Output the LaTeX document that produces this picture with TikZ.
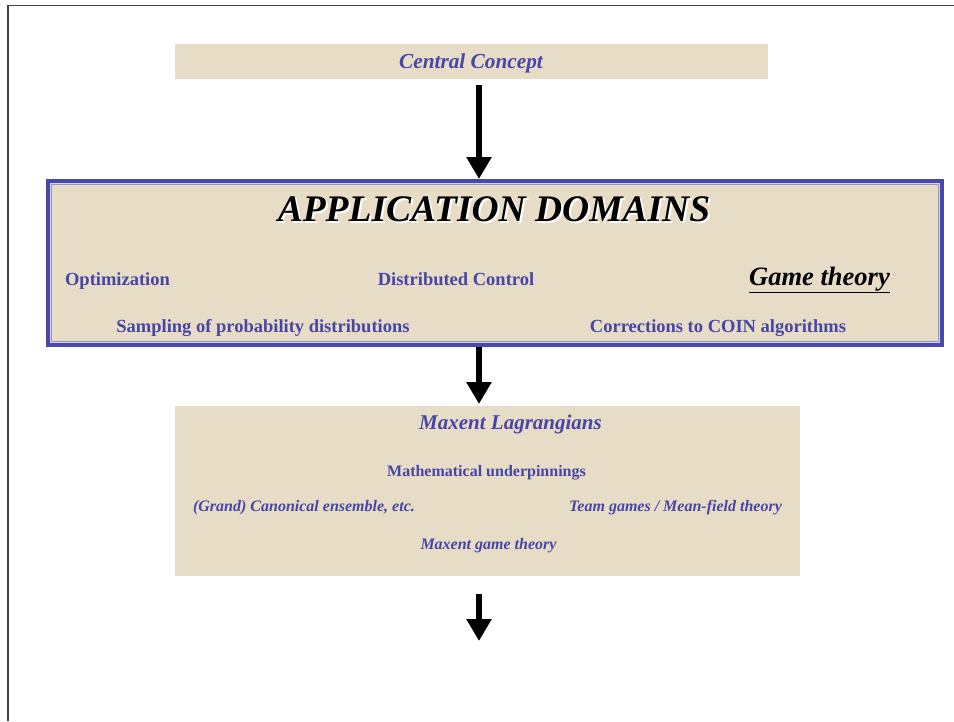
\documentclass[tikz,border=0pt]{standalone}
\usepackage{fontspec}
\setmainfont{Liberation Serif}
\usetikzlibrary{arrows.meta}
\definecolor{paneltan}{RGB}{231,220,197}
\definecolor{txtblue}{RGB}{70,70,168}
\definecolor{frameblue}{RGB}{72,72,174}
\definecolor{framelight}{RGB}{214,212,234}
\definecolor{framegrey}{RGB}{150,150,195}
\newcommand{\shadowtext}[1]{\makebox[0pt][l]{\kern2pt\raisebox{-2pt}{\color{white}#1}}#1}
\begin{document}
\begin{tikzpicture}[x=1pt,y=-1pt,
  panel/.style={fill=paneltan,draw=none,inner sep=0,outer sep=0,anchor=north west},
  lbl/.style={anchor=base,inner sep=0,text=txtblue,font=\bfseries\fontsize{18.5}{20}\selectfont},
  sublbl/.style={anchor=base,inner sep=0,text=txtblue,font=\bfseries\fontsize{16}{18}\selectfont},
  subit/.style={anchor=base,inner sep=0,text=txtblue,font=\bfseries\itshape\fontsize{16}{18}\selectfont},
  bigarrow/.style={line width=6pt,-{Triangle[width=24pt,length=22pt]}}]
\useasboundingbox (0,0) rectangle (954,721);
% slide frame
\draw[line width=1.5pt,black!75] (8,721) -- (8,5.5) -- (954,5.5);
% Central concept box
\node[panel,minimum width=593pt,minimum height=35pt] (cc) at (175,44) {};
\node[anchor=base,inner sep=0,text=txtblue,font=\bfseries\itshape\fontsize{21.3}{24}\selectfont] (cct) at (471,68) {Central Concept};
% Application domains box
\node[panel,minimum width=898pt,minimum height=168pt] (app) at (46,179) {};
\draw[frameblue,line width=4pt] (48,181) rectangle (942,345);
\draw[framelight,line width=1pt] (50.5,183.5) rectangle (939.5,342.5);
\draw[framegrey,line width=1pt] (51.5,184.5) rectangle (938.5,341.5);
\node[anchor=base,inner sep=0,text=black,font=\bfseries\itshape\fontsize{37.5}{40}\selectfont] (appt) at (494,221) {\shadowtext{APPLICATION DOMAINS}};
\node[lbl] (opt) at (117.5,285) {Optimization};
\node[lbl] (dc) at (456,285) {Distributed Control};
\node[anchor=base,inner sep=0,text=black,font=\bfseries\itshape\fontsize{26.5}{28}\selectfont] (gt) at (819.5,285) {\underline{Game theory}};
\node[lbl] (samp) at (263,332) {Sampling of probability distributions};
\node[lbl] (corr) at (718,332) {Corrections to COIN algorithms};
% Maxent box
\node[panel,minimum width=625pt,minimum height=170pt] (mx) at (175,406) {};
\node[anchor=base,inner sep=0,text=txtblue,font=\bfseries\itshape\fontsize{21}{23}\selectfont] (mxt) at (510.5,429) {Maxent Lagrangians};
\node[sublbl] (math) at (486.5,476) {Mathematical underpinnings};
\node[subit] (grand) at (304,511) {(Grand) Canonical ensemble, etc.};
\node[subit] (team) at (675.5,511) {Team games / Mean-field theory};
\node[subit] (mgt) at (488.5,549) {Maxent game theory};
% arrows
\coordinate (a1s) at (479,85);
\coordinate (a1e) at (479,179);
\coordinate (a2s) at (479,347);
\coordinate (a2e) at (479,404);
\coordinate (a3s) at (479,594);
\coordinate (a3e) at (479,641);
\draw[bigarrow] (a1s) -- (a1e);
\draw[bigarrow] (a2s) -- (a2e);
\draw[bigarrow] (a3s) -- (a3e);
\end{tikzpicture}
\end{document}
